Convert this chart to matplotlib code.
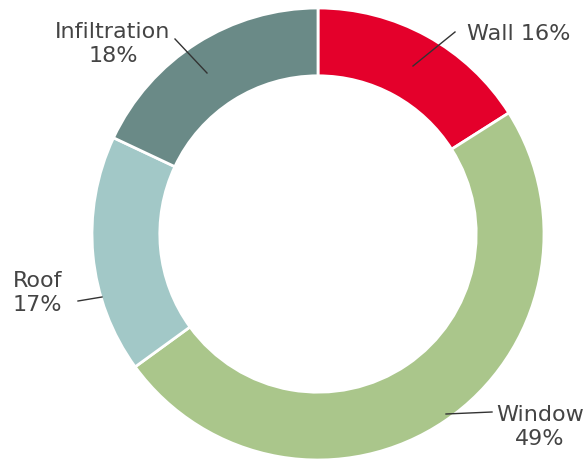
import matplotlib
matplotlib.use("Agg")
import matplotlib.pyplot as plt

categories = ["Wall", "Window", "Roof", "Infiltration"]
shares = [16, 49, 17, 18]
colors = ["#E4002B", "#AAC68B", "#A2C8C7", "#6A8A87"]

W, H = 586, 460
fig = plt.figure(figsize=(W / 100, H / 100), dpi=100)
ax = fig.add_axes([0, 0, 1, 1])

cx, cy, R = 318, H - 235, 226
ax.pie(shares, colors=colors, startangle=90, counterclock=False,
       center=(cx, cy), radius=R, frame=True,
       wedgeprops=dict(width=R * 0.3, edgecolor="white", linewidth=2))
ax.set_xlim(0, W)
ax.set_ylim(0, H)
ax.set_aspect("equal")
ax.axis("off")

# label layout in pixel coordinates (y measured from top)
labels = {
    "Wall": dict(text="Wall 16%", line=((413, 67), (455, 33)), pos=(467, 34), ha="left"),
    "Window": dict(text="Window\n49%", line=((446, 415), (492, 413)), pos=(540, 427), ha="center"),
    "Roof": dict(text="Roof\n17%", line=((102, 298), (78, 302)), pos=(13, 293), ha="left"),
    "Infiltration": dict(text="Infiltration\n18%", line=((207, 74), (175, 40)), pos=(113, 44), ha="center"),
}
for name in categories:
    spec = labels[name]
    (x0, y0), (x1, y1) = spec["line"]
    ax.plot([x0, x1], [H - y0, H - y1], color="#333333", lw=1)
    ax.text(spec["pos"][0], H - spec["pos"][1], spec["text"], ha=spec["ha"], va="center",
            fontsize=16, color="#444444", linespacing=1.3, family="DejaVu Sans")

fig.savefig("out.png", dpi=100)
